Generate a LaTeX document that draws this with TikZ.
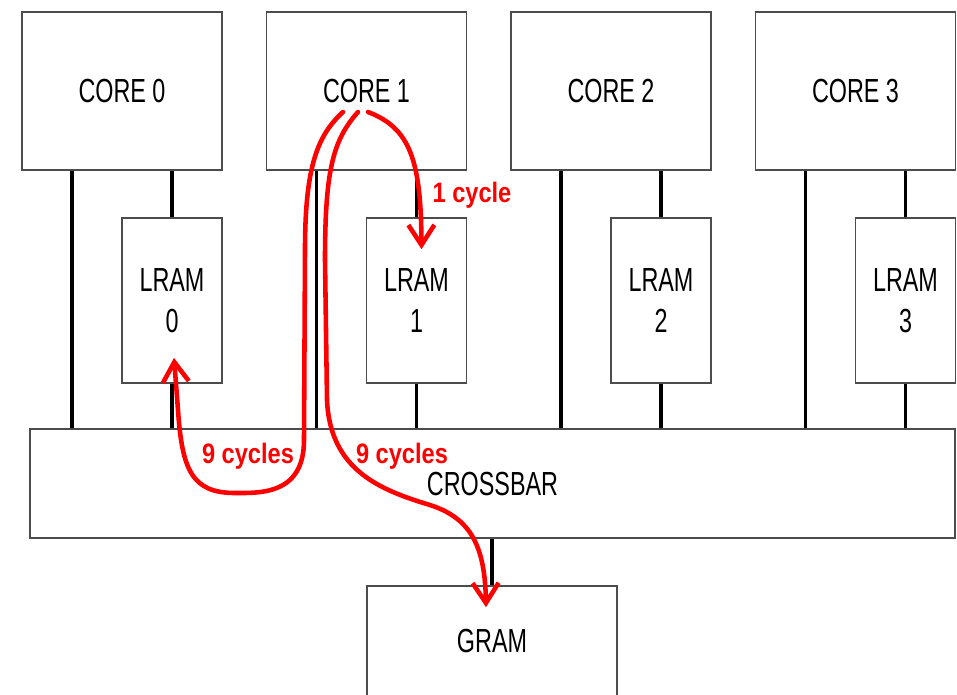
\documentclass[tikz,border=0pt]{standalone}
\usepackage{fontspec}
\setmainfont{Liberation Sans}
\usetikzlibrary{arrows.meta}

\tikzset{
  blk/.style={draw=black!70, line width=1pt, fill=white, inner sep=0pt},
  lbl/.style={font=\fontsize{19}{23}\selectfont, xscale=0.7, align=center, inner sep=0pt},
  bus/.style={line width=1.9pt},
  hop/.style={->, red, line width=2.6pt, line cap=round, line join=round},
  cyc/.style={red, font=\bfseries\fontsize{16}{19}\selectfont, xscale=0.84, inner sep=0pt, anchor=base}
}

\begin{document}
\begin{tikzpicture}[x=0.02cm, y=-0.02cm, >={Straight Barb[length=4mm, width=5.2mm]}]
    \useasboundingbox (0,0) rectangle (957,694);

    % Blocos
    \foreach \i in {0,...,3} {
        \node[blk, minimum width=4cm, minimum height=3.16cm] (core\i) at (122+244.5*\i, 91) {};
        \node[blk, minimum width=2cm, minimum height=3.3cm] (lram\i) at (172+244.5*\i, 300.5) {};
        \node[lbl] (coretxt\i) at (core\i) {CORE \i};
        \node[lbl] (lramtxt\i) at (lram\i) {LRAM\\\i};
    }
    \node[blk, minimum width=18.5cm, minimum height=2.18cm] (xbar) at (492.5, 483.5) {};
    \node[lbl] (xbartxt) at (xbar) {CROSSBAR};
    \node[blk, minimum width=5cm, minimum height=2.2cm] (gram) at (492, 641) {};
    \node[lbl] (gramtxt) at (gram) {GRAM};

    % Ligacoes
    \foreach \i in {0,...,3} {
        \coordinate (tap\i) at ([xshift=-1cm]core\i.south);
        \draw[bus] (tap\i) -- (tap\i |- xbar.north);
        \draw[bus] (lram\i.north |- core\i.south) -- (lram\i.north);
        \draw[bus] (lram\i.south) -- (lram\i.south |- xbar.north);
    }
    \draw[bus] (gram.north) -- (gram.north |- xbar.south);

    % Acessos do CORE 1
    \coordinate (src) at (357,112);
    \draw[hop] ([xshift=0.22cm]src) .. controls (410,128) and (421,160) .. ([shift={(5,32)}]lram1.north);
    \draw[hop] ([xshift=-0.28cm]src) .. controls (318,135) and (305,165) .. (305,250) -- (304,440)
        .. controls (304,495) and (260,493) .. (235,493)
        .. controls (192,493) and (182,470) .. (178,410) -- ([shift={(2,-26)}]lram0.south);
    \draw[hop] ([xshift=0.02cm]src) .. controls (333,140) and (325,170) .. (325,260) -- (327,400)
        .. controls (330,470) and (380,490) .. (430,505)
        .. controls (470,518) and (485,545) .. ([shift={(-6,22)}]gram.north);

    % Latencias
    \coordinate (pos1) at (472,202);
    \coordinate (pos9a) at (248,463);
    \coordinate (pos9b) at (402,463);
    \node[cyc] (lat1) at (pos1) {1 cycle};
    \node[cyc] (lat9a) at (pos9a) {9 cycles};
    \node[cyc] (lat9b) at (pos9b) {9 cycles};
\end{tikzpicture}
\end{document}
